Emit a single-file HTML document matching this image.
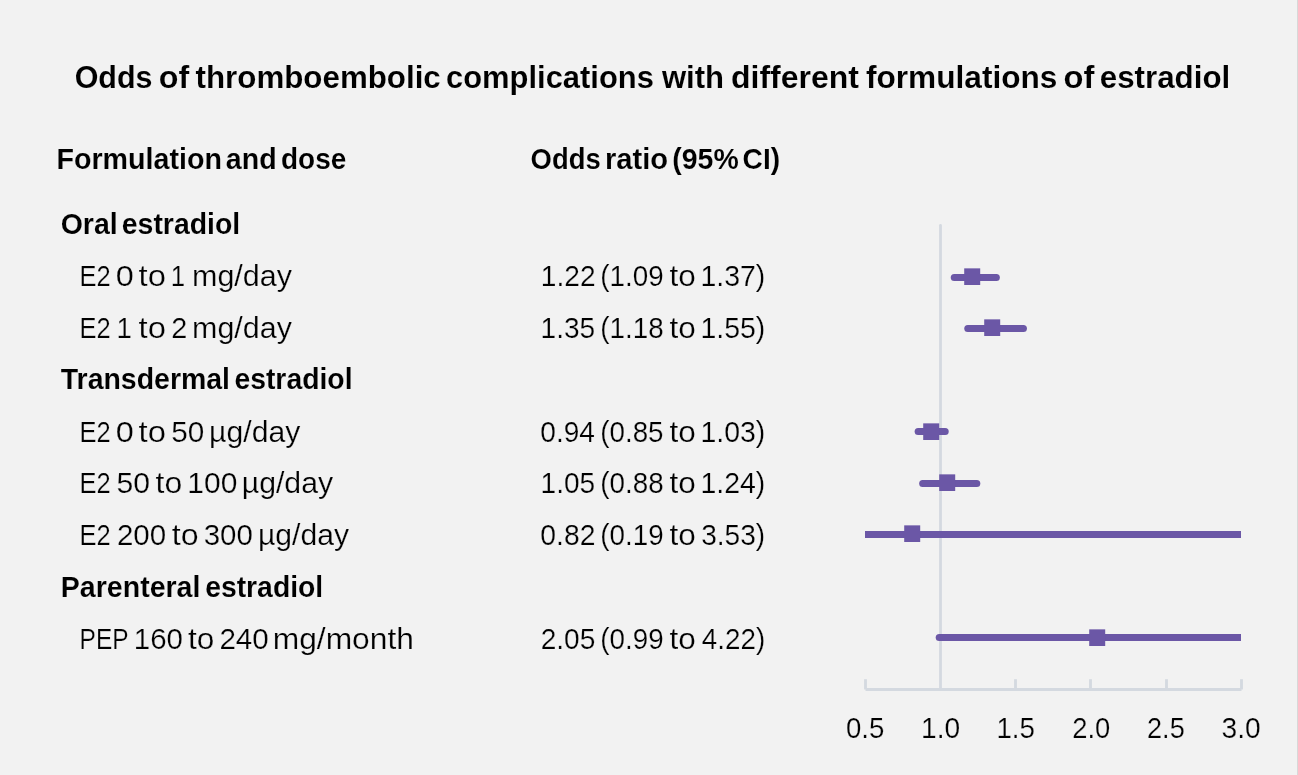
<!DOCTYPE html>
<html><head><meta charset="utf-8"><style>
html,body{margin:0;padding:0;background:#f2f2f2;width:1298px;height:775px;overflow:hidden}
svg{display:block;will-change:transform}
text{font-family:"Liberation Sans",sans-serif;fill:#000}
.r{stroke:#f2f2f2;stroke-width:0.22px}
.b{stroke:#f2f2f2;stroke-width:0.1px}
</style></head><body>
<svg width="1298" height="775" viewBox="0 0 1298 775">
<rect x="0" y="0" width="1298" height="775" fill="#f2f2f2"/>
<rect x="1297" y="0" width="1" height="775" fill="#d8d8d8"/>
<line x1="940.5" y1="225.4" x2="940.5" y2="689.45" stroke="#d4d9e0" stroke-width="2.8" stroke-linecap="round"/>
<line x1="865.5" y1="689.45" x2="1241.5" y2="689.45" stroke="#d4d9e0" stroke-width="2.85"/>
<line x1="865.5" y1="679.2" x2="865.5" y2="689.45" stroke="#d4d9e0" stroke-width="2.85"/>
<line x1="1015.5" y1="679.2" x2="1015.5" y2="689.45" stroke="#d4d9e0" stroke-width="2.85"/>
<line x1="1090.5" y1="679.2" x2="1090.5" y2="689.45" stroke="#d4d9e0" stroke-width="2.85"/>
<line x1="1166.5" y1="679.2" x2="1166.5" y2="689.45" stroke="#d4d9e0" stroke-width="2.85"/>
<line x1="1241.5" y1="679.2" x2="1241.5" y2="689.45" stroke="#d4d9e0" stroke-width="2.85"/>
<text id="title_0" x="74.70" y="88.00" font-size="31.0" font-weight="bold" class="b" textLength="77.81" lengthAdjust="spacingAndGlyphs">Odds</text>
<text id="title_1" x="158.75" y="88.00" font-size="31.0" font-weight="bold" class="b" textLength="30.41" lengthAdjust="spacingAndGlyphs">of</text>
<text id="title_2" x="195.55" y="88.00" font-size="31.0" font-weight="bold" class="b" textLength="245.23" lengthAdjust="spacingAndGlyphs">thromboembolic</text>
<text id="title_3" x="446.04" y="88.00" font-size="31.0" font-weight="bold" class="b" textLength="207.89" lengthAdjust="spacingAndGlyphs">complications</text>
<text id="title_4" x="661.92" y="88.00" font-size="31.0" font-weight="bold" class="b" textLength="62.12" lengthAdjust="spacingAndGlyphs">with</text>
<text id="title_5" x="731.02" y="88.00" font-size="31.0" font-weight="bold" class="b" textLength="127.88" lengthAdjust="spacingAndGlyphs">different</text>
<text id="title_6" x="865.97" y="88.00" font-size="31.0" font-weight="bold" class="b" textLength="191.42" lengthAdjust="spacingAndGlyphs">formulations</text>
<text id="title_7" x="1063.63" y="88.00" font-size="31.0" font-weight="bold" class="b" textLength="30.84" lengthAdjust="spacingAndGlyphs">of</text>
<text id="title_8" x="1099.81" y="88.00" font-size="31.0" font-weight="bold" class="b" textLength="130.46" lengthAdjust="spacingAndGlyphs">estradiol</text>
<text id="hdr1_0" x="56.42" y="169.20" font-size="29.4" font-weight="bold" class="b" textLength="165.49" lengthAdjust="spacingAndGlyphs">Formulation</text>
<text id="hdr1_1" x="225.80" y="169.20" font-size="29.4" font-weight="bold" class="b" textLength="50.80" lengthAdjust="spacingAndGlyphs">and</text>
<text id="hdr1_2" x="281.01" y="169.20" font-size="29.4" font-weight="bold" class="b" textLength="65.24" lengthAdjust="spacingAndGlyphs">dose</text>
<text id="hdr2_0" x="530.61" y="169.20" font-size="29.4" font-weight="bold" class="b" textLength="70.09" lengthAdjust="spacingAndGlyphs">Odds</text>
<text id="hdr2_1" x="604.92" y="169.20" font-size="29.4" font-weight="bold" class="b" textLength="63.13" lengthAdjust="spacingAndGlyphs">ratio</text>
<text id="hdr2_2" x="672.33" y="169.20" font-size="29.4" font-weight="bold" class="b" textLength="66.40" lengthAdjust="spacingAndGlyphs">(95%</text>
<text id="hdr2_3" x="742.57" y="169.20" font-size="29.4" font-weight="bold" class="b" textLength="37.52" lengthAdjust="spacingAndGlyphs">CI)</text>
<text id="L0_0" x="60.66" y="234.10" font-size="29.4" font-weight="bold" class="b" textLength="57.02" lengthAdjust="spacingAndGlyphs">Oral</text>
<text id="L0_1" x="121.79" y="234.10" font-size="29.4" font-weight="bold" class="b" textLength="118.41" lengthAdjust="spacingAndGlyphs">estradiol</text>
<text id="L1_0" x="79.59" y="285.96" font-size="29.2" class="r" textLength="31.16" lengthAdjust="spacingAndGlyphs">E2</text>
<text id="L1_1" x="115.86" y="285.96" font-size="29.2" class="r" textLength="18.02" lengthAdjust="spacingAndGlyphs">0</text>
<text id="L1_2" x="138.55" y="285.96" font-size="29.2" class="r" textLength="27.33" lengthAdjust="spacingAndGlyphs">to</text>
<text id="L1_3" x="170.63" y="285.96" font-size="29.2" class="r" textLength="14.31" lengthAdjust="spacingAndGlyphs">1</text>
<text id="L1_4" x="192.04" y="285.96" font-size="29.2" class="r" textLength="99.93" lengthAdjust="spacingAndGlyphs">mg/day</text>
<text id="V1_0" x="540.85" y="285.96" font-size="29.2" class="r" textLength="54.68" lengthAdjust="spacingAndGlyphs">1.22</text>
<text id="V1_1" x="600.27" y="285.96" font-size="29.2" class="r" textLength="63.37" lengthAdjust="spacingAndGlyphs">(1.09</text>
<text id="V1_2" x="669.53" y="285.96" font-size="29.2" class="r" textLength="26.29" lengthAdjust="spacingAndGlyphs">to</text>
<text id="V1_3" x="700.42" y="285.96" font-size="29.2" class="r" textLength="64.83" lengthAdjust="spacingAndGlyphs">1.37)</text>
<text id="L2_0" x="79.56" y="337.82" font-size="29.2" class="r" textLength="31.16" lengthAdjust="spacingAndGlyphs">E2</text>
<text id="L2_1" x="116.62" y="337.82" font-size="29.2" class="r" textLength="15.36" lengthAdjust="spacingAndGlyphs">1</text>
<text id="L2_2" x="138.55" y="337.82" font-size="29.2" class="r" textLength="27.33" lengthAdjust="spacingAndGlyphs">to</text>
<text id="L2_3" x="171.29" y="337.82" font-size="29.2" class="r" textLength="16.03" lengthAdjust="spacingAndGlyphs">2</text>
<text id="L2_4" x="192.12" y="337.82" font-size="29.2" class="r" textLength="99.77" lengthAdjust="spacingAndGlyphs">mg/day</text>
<text id="V2_0" x="540.62" y="337.82" font-size="29.2" class="r" textLength="54.57" lengthAdjust="spacingAndGlyphs">1.35</text>
<text id="V2_1" x="600.29" y="337.82" font-size="29.2" class="r" textLength="63.33" lengthAdjust="spacingAndGlyphs">(1.18</text>
<text id="V2_2" x="669.53" y="337.82" font-size="29.2" class="r" textLength="26.29" lengthAdjust="spacingAndGlyphs">to</text>
<text id="V2_3" x="700.42" y="337.82" font-size="29.2" class="r" textLength="64.83" lengthAdjust="spacingAndGlyphs">1.55)</text>
<text id="L3_0" x="60.74" y="388.98" font-size="29.4" font-weight="bold" class="b" textLength="169.29" lengthAdjust="spacingAndGlyphs">Transdermal</text>
<text id="L3_1" x="234.41" y="388.98" font-size="29.4" font-weight="bold" class="b" textLength="118.12" lengthAdjust="spacingAndGlyphs">estradiol</text>
<text id="L4_0" x="79.59" y="441.54" font-size="29.2" class="r" textLength="31.16" lengthAdjust="spacingAndGlyphs">E2</text>
<text id="L4_1" x="115.86" y="441.54" font-size="29.2" class="r" textLength="18.02" lengthAdjust="spacingAndGlyphs">0</text>
<text id="L4_2" x="138.55" y="441.54" font-size="29.2" class="r" textLength="27.33" lengthAdjust="spacingAndGlyphs">to</text>
<text id="L4_3" x="171.18" y="441.54" font-size="29.2" class="r" textLength="33.03" lengthAdjust="spacingAndGlyphs">50</text>
<text id="L4_4" x="209.13" y="441.54" font-size="29.2" class="r" textLength="91.17" lengthAdjust="spacingAndGlyphs">µg/day</text>
<text id="V4_0" x="540.29" y="441.54" font-size="29.2" class="r" textLength="54.67" lengthAdjust="spacingAndGlyphs">0.94</text>
<text id="V4_1" x="600.32" y="441.54" font-size="29.2" class="r" textLength="63.20" lengthAdjust="spacingAndGlyphs">(0.85</text>
<text id="V4_2" x="669.53" y="441.54" font-size="29.2" class="r" textLength="26.29" lengthAdjust="spacingAndGlyphs">to</text>
<text id="V4_3" x="700.42" y="441.54" font-size="29.2" class="r" textLength="64.83" lengthAdjust="spacingAndGlyphs">1.03)</text>
<text id="L5_0" x="79.55" y="493.40" font-size="29.2" class="r" textLength="31.17" lengthAdjust="spacingAndGlyphs">E2</text>
<text id="L5_1" x="116.51" y="493.40" font-size="29.2" class="r" textLength="33.53" lengthAdjust="spacingAndGlyphs">50</text>
<text id="L5_2" x="155.49" y="493.40" font-size="29.2" class="r" textLength="26.70" lengthAdjust="spacingAndGlyphs">to</text>
<text id="L5_3" x="187.36" y="493.40" font-size="29.2" class="r" textLength="50.04" lengthAdjust="spacingAndGlyphs">100</text>
<text id="L5_4" x="241.71" y="493.40" font-size="29.2" class="r" textLength="91.41" lengthAdjust="spacingAndGlyphs">µg/day</text>
<text id="V5_0" x="540.62" y="493.40" font-size="29.2" class="r" textLength="54.57" lengthAdjust="spacingAndGlyphs">1.05</text>
<text id="V5_1" x="600.29" y="493.40" font-size="29.2" class="r" textLength="63.33" lengthAdjust="spacingAndGlyphs">(0.88</text>
<text id="V5_2" x="669.53" y="493.40" font-size="29.2" class="r" textLength="26.29" lengthAdjust="spacingAndGlyphs">to</text>
<text id="V5_3" x="700.42" y="493.40" font-size="29.2" class="r" textLength="64.83" lengthAdjust="spacingAndGlyphs">1.24)</text>
<text id="L6_0" x="79.56" y="545.26" font-size="29.2" class="r" textLength="31.16" lengthAdjust="spacingAndGlyphs">E2</text>
<text id="L6_1" x="116.90" y="545.26" font-size="29.2" class="r" textLength="49.25" lengthAdjust="spacingAndGlyphs">200</text>
<text id="L6_2" x="171.82" y="545.26" font-size="29.2" class="r" textLength="26.80" lengthAdjust="spacingAndGlyphs">to</text>
<text id="L6_3" x="203.65" y="545.26" font-size="29.2" class="r" textLength="49.14" lengthAdjust="spacingAndGlyphs">300</text>
<text id="L6_4" x="257.98" y="545.26" font-size="29.2" class="r" textLength="91.04" lengthAdjust="spacingAndGlyphs">µg/day</text>
<text id="V6_0" x="540.29" y="545.26" font-size="29.2" class="r" textLength="55.11" lengthAdjust="spacingAndGlyphs">0.82</text>
<text id="V6_1" x="600.27" y="545.26" font-size="29.2" class="r" textLength="63.37" lengthAdjust="spacingAndGlyphs">(0.19</text>
<text id="V6_2" x="669.53" y="545.26" font-size="29.2" class="r" textLength="26.29" lengthAdjust="spacingAndGlyphs">to</text>
<text id="V6_3" x="701.20" y="545.26" font-size="29.2" class="r" textLength="64.02" lengthAdjust="spacingAndGlyphs">3.53)</text>
<text id="L7_0" x="60.84" y="597.12" font-size="29.4" font-weight="bold" class="b" textLength="139.59" lengthAdjust="spacingAndGlyphs">Parenteral</text>
<text id="L7_1" x="205.15" y="597.12" font-size="29.4" font-weight="bold" class="b" textLength="118.10" lengthAdjust="spacingAndGlyphs">estradiol</text>
<text id="L8_0" x="79.59" y="648.98" font-size="29.2" class="r" textLength="49.02" lengthAdjust="spacingAndGlyphs">PEP</text>
<text id="L8_1" x="133.79" y="648.98" font-size="29.2" class="r" textLength="49.11" lengthAdjust="spacingAndGlyphs">160</text>
<text id="L8_2" x="188.10" y="648.98" font-size="29.2" class="r" textLength="26.35" lengthAdjust="spacingAndGlyphs">to</text>
<text id="L8_3" x="219.40" y="648.98" font-size="29.2" class="r" textLength="49.41" lengthAdjust="spacingAndGlyphs">240</text>
<text id="L8_4" x="272.72" y="648.98" font-size="29.2" class="r" textLength="141.22" lengthAdjust="spacingAndGlyphs">mg/month</text>
<text id="V8_0" x="540.71" y="648.98" font-size="29.2" class="r" textLength="54.66" lengthAdjust="spacingAndGlyphs">2.05</text>
<text id="V8_1" x="600.27" y="648.98" font-size="29.2" class="r" textLength="63.37" lengthAdjust="spacingAndGlyphs">(0.99</text>
<text id="V8_2" x="669.53" y="648.98" font-size="29.2" class="r" textLength="26.29" lengthAdjust="spacingAndGlyphs">to</text>
<text id="V8_3" x="701.86" y="648.98" font-size="29.2" class="r" textLength="63.31" lengthAdjust="spacingAndGlyphs">4.22)</text>
<text id="T0.5_0" x="845.93" y="738.20" font-size="29.2" class="r" textLength="38.34" lengthAdjust="spacingAndGlyphs">0.5</text>
<text id="T1.0_0" x="921.11" y="738.20" font-size="29.2" class="r" textLength="39.13" lengthAdjust="spacingAndGlyphs">1.0</text>
<text id="T1.5_0" x="996.45" y="738.20" font-size="29.2" class="r" textLength="38.47" lengthAdjust="spacingAndGlyphs">1.5</text>
<text id="T2.0_0" x="1072.21" y="738.20" font-size="29.2" class="r" textLength="37.99" lengthAdjust="spacingAndGlyphs">2.0</text>
<text id="T2.5_0" x="1147.09" y="738.20" font-size="29.2" class="r" textLength="37.61" lengthAdjust="spacingAndGlyphs">2.5</text>
<text id="T3.0_0" x="1221.60" y="738.20" font-size="29.2" class="r" textLength="39.16" lengthAdjust="spacingAndGlyphs">3.0</text>
<clipPath id="pc"><rect x="865" y="200" width="376" height="500"/></clipPath>
<line x1="954.24" y1="277.5" x2="996.35" y2="277.5" stroke="#6b57a6" stroke-width="7" stroke-linecap="round" clip-path="url(#pc)"/>
<rect x="964.20" y="268.35" width="16" height="16.65" fill="#6b57a6"/>
<line x1="967.77" y1="328.5" x2="1023.42" y2="328.5" stroke="#6b57a6" stroke-width="7" stroke-linecap="round" clip-path="url(#pc)"/>
<rect x="984.20" y="319.35" width="16" height="16.65" fill="#6b57a6"/>
<line x1="918.14" y1="431.5" x2="945.21" y2="431.5" stroke="#6b57a6" stroke-width="7" stroke-linecap="round" clip-path="url(#pc)"/>
<rect x="923.20" y="423.35" width="16" height="16.65" fill="#6b57a6"/>
<line x1="922.65" y1="483.5" x2="976.80" y2="483.5" stroke="#6b57a6" stroke-width="7" stroke-linecap="round" clip-path="url(#pc)"/>
<rect x="939.20" y="474.35" width="16" height="16.65" fill="#6b57a6"/>
<line x1="800.00" y1="534.5" x2="1300.00" y2="534.5" stroke="#6b57a6" stroke-width="7" stroke-linecap="round" clip-path="url(#pc)"/>
<rect x="904.20" y="525.35" width="16" height="16.65" fill="#6b57a6"/>
<line x1="939.20" y1="637.5" x2="1300.00" y2="637.5" stroke="#6b57a6" stroke-width="7" stroke-linecap="round" clip-path="url(#pc)"/>
<rect x="1089.20" y="629.35" width="16" height="16.65" fill="#6b57a6"/>
</svg>
</body></html>
